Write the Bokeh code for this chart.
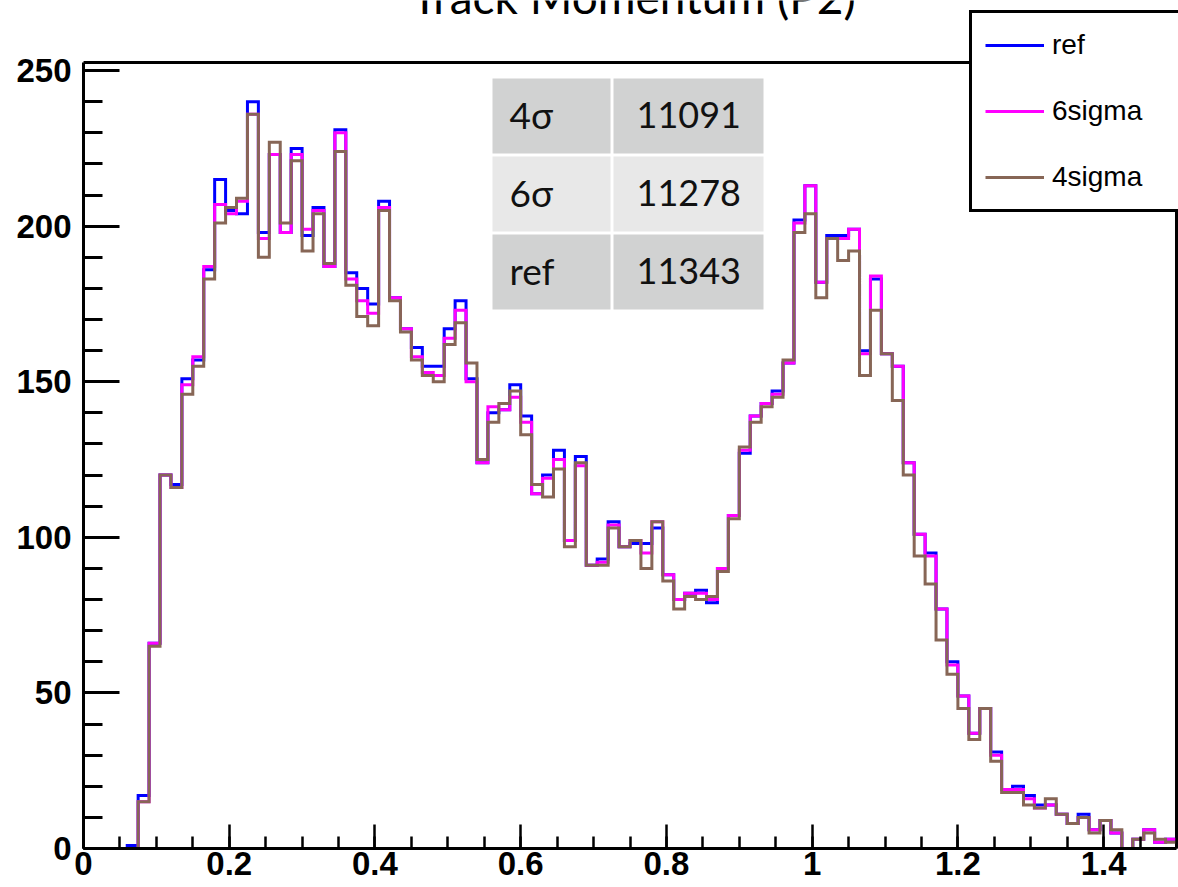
import numpy as np
from bokeh.plotting import figure
from bokeh.models import (Range1d, FixedTicker, CustomJSTickFormatter,
                          Legend, LegendItem, BoxAnnotation, Label)
from bokeh.embed import file_html
from bokeh.resources import INLINE

# ---------------- data ----------------
x_min, x_max, n_bins = 0.0, 1.5, 100
y_max = 252.6

ref = [0, 0, 0, 0, 1, 17, 66, 120, 117, 151,
       157, 186, 215, 205, 204, 240, 198, 223, 198, 225,
       197, 206, 187, 231, 185, 180, 175, 208, 177, 167,
       161, 155, 155, 167, 176, 151, 124, 140, 141, 149,
       139, 114, 120, 128, 99, 126, 91, 93, 105, 97,
       98, 98, 103, 88, 80, 82, 83, 79, 90, 107,
       127, 139, 143, 147, 156, 202, 213, 182, 197, 197,
       199, 160, 183, 159, 155, 124, 101, 95, 77, 60,
       49, 37, 45, 31, 19, 20, 17, 14, 14, 11,
       8, 11, 6, 9, 5, 0, 3, 6, 2, 3]

sig6 = [0, 0, 0, 0, 0, 15, 66, 120, 116, 149,
        158, 187, 207, 204, 208, 236, 196, 223, 198, 223,
        199, 205, 187, 230, 183, 176, 172, 206, 177, 167,
        158, 153, 152, 164, 173, 150, 124, 142, 141, 145,
        137, 114, 119, 125, 99, 123, 91, 92, 104, 97,
        99, 95, 105, 88, 80, 82, 82, 80, 90, 107,
        128, 139, 143, 146, 156, 201, 213, 182, 196, 196,
        199, 159, 184, 159, 155, 124, 101, 94, 77, 59,
        49, 37, 45, 30, 19, 19, 16, 13, 14, 11,
        8, 10, 6, 9, 5, 0, 3, 6, 2, 3]

sig4 = [0, 0, 0, 0, 0, 15, 65, 120, 116, 146,
        155, 183, 201, 206, 209, 236, 190, 227, 201, 221,
        192, 204, 188, 224, 181, 171, 168, 205, 176, 166,
        157, 152, 150, 162, 169, 156, 125, 137, 143, 147,
        133, 117, 113, 122, 97, 124, 91, 91, 103, 97,
        99, 90, 105, 86, 77, 81, 80, 81, 89, 106,
        129, 137, 142, 145, 157, 198, 204, 177, 196, 189,
        192, 152, 173, 159, 144, 120, 94, 85, 67, 56,
        45, 35, 45, 28, 18, 18, 14, 13, 16, 11,
        8, 10, 5, 9, 6, 0, 3, 5, 3, 2]

series_names = ["ref", "6sigma", "4sigma"]
series_values = [ref, sig6, sig4]
series_colors = ["#0000ff", "#ff00ff", "#876656"]

x_major_ticks = [0, 0.2, 0.4, 0.6, 0.8, 1.0, 1.2, 1.4]
x_minor_step = 0.05
y_major_ticks = [0, 50, 100, 150, 200, 250]
y_minor_step = 10

table_labels = ["4σ", "6σ", "ref"]
table_values = ["11091", "11278", "11343"]
table_fills = ["#d1d2d2", "#e8e8e8", "#d1d2d2"]

title_text = "Track Momentum (P2)"

# ---------------- layout (pixels) ----------------
W, H = 1178, 887
FL, FR, FT, FB = 83, 1176, 62, 848      # visible histogram frame
PX_X = (FR - FL) / (x_max - x_min)
PX_Y = (FB - FT) / y_max
LABEL_SHIFT = 14                         # Label baseline correction (px)


def px2x(px):
    return x_min + (px - FL) / PX_X


def py2y(py):
    return (FB - py) / PX_Y


# the plotting area reaches the top and right canvas edges so that the
# legend (which sticks out above the frame) is not clipped
p = figure(width=W, height=H, output_backend="svg", toolbar_location=None,
           x_range=Range1d(x_min, px2x(W)), y_range=Range1d(0, py2y(0)),
           min_border_left=FL, min_border_right=0, min_border_top=0,
           min_border_bottom=H - FB)
p.background_fill_color = "white"
p.border_fill_color = "white"
p.outline_line_color = None
p.xgrid.visible = False
p.ygrid.visible = False

# frame border (top & right sides)
p.add_layout(BoxAnnotation(left=x_min, right=x_max, bottom=0, top=y_max,
                           fill_alpha=0, line_color="black", line_width=3,
                           line_alpha=1, level="underlay"))

edges = np.linspace(x_min, x_max, n_bins + 1)
renderers = []
for name, vals, col in zip(series_names, series_values, series_colors):
    yv = list(vals) + [vals[-1]]
    r = p.step(edges, yv, mode="after", line_color=col, line_width=3,
               line_join="miter")
    renderers.append(r)

# axes
x_minor = list(np.round(np.arange(x_min, x_max + 1e-9, x_minor_step), 3))
y_minor = list(np.arange(0, y_max, y_minor_step))
p.xaxis.ticker = FixedTicker(ticks=x_major_ticks, minor_ticks=x_minor)
p.yaxis.ticker = FixedTicker(ticks=y_major_ticks, minor_ticks=y_minor)
p.xaxis.bounds = (x_min, x_max)
p.yaxis.bounds = (0, y_max)
p.xaxis.formatter = CustomJSTickFormatter(
    code="return tick.toFixed(1).replace(/\\.0$/, '');")
for ax in (p.xaxis[0], p.yaxis[0]):
    ax.axis_line_width = 3
    ax.axis_line_color = "black"
    ax.major_tick_out = 0
    ax.minor_tick_out = 0
    ax.major_tick_line_color = "black"
    ax.minor_tick_line_color = "black"
    ax.major_label_text_font = "Liberation Sans"
    ax.major_label_text_font_style = "bold"
    ax.major_label_text_font_size = "33px"
    ax.major_label_text_color = "black"
p.yaxis.major_tick_in = 36
p.yaxis.minor_tick_in = 19
p.yaxis.major_tick_line_width = 3
p.yaxis.minor_tick_line_width = 3
p.yaxis.major_label_standoff = 12
p.xaxis.major_tick_in = 24
p.xaxis.minor_tick_in = 12
p.xaxis.major_tick_line_width = 2.5
p.xaxis.minor_tick_line_width = 2.5
p.xaxis.major_label_standoff = 3

# legend
legend = Legend(
    items=[LegendItem(label=n, renderers=[r]) for n, r in zip(series_names, renderers)],
    location=(969 - FL, FB - 212),
    border_line_color="black", border_line_width=3, border_line_alpha=1,
    background_fill_color="white", background_fill_alpha=1,
    padding=13, spacing=28, margin=0,
    glyph_height=38, glyph_width=59, label_height=38, label_width=150,
    label_standoff=8, label_text_font="Liberation Sans",
    label_text_font_size="28px", label_text_color="black",
)
p.add_layout(legend)

# table
col_edges = [(492, 610), (613, 763)]
row_tops = [78, 156, 234]
row_h = 75
for i, (lab, val) in enumerate(zip(table_labels, table_values)):
    top = row_tops[i]
    for (l, r) in col_edges:
        p.add_layout(BoxAnnotation(left=px2x(l), right=px2x(r),
                                   top=py2y(top), bottom=py2y(top + row_h),
                                   fill_color=table_fills[i], fill_alpha=1,
                                   line_color=None, level="underlay"))
    base = py2y(top + 50 - LABEL_SHIFT)
    p.add_layout(Label(x=px2x(509), y=base, text=lab, text_font="Lato",
                       text_font_size="37px", text_color="#111111",
                       text_baseline="alphabetic", text_align="left",
                       level="overlay"))
    p.add_layout(Label(x=px2x(636), y=base, text=val, text_font="Lato",
                       text_font_size="36px", text_color="#111111",
                       text_baseline="alphabetic", text_align="left",
                       level="overlay"))

# title (its upper part lies above the page, as in the reference)
p.add_layout(Label(x=px2x(633), y=py2y(11 - LABEL_SHIFT - 1), text=title_text,
                   text_font="Lato", text_font_size="46px", text_color="black",
                   text_baseline="alphabetic", text_align="center",
                   level="overlay"))

open("out.html", "w").write(file_html(p, INLINE))
